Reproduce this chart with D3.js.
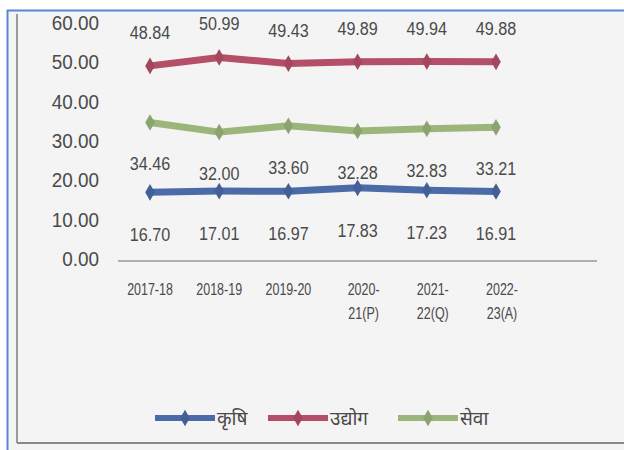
<!DOCTYPE html>
<html><head><meta charset="utf-8">
<script src="https://cdn.jsdelivr.net/npm/d3@7"></script>
<style>
html,body{margin:0;padding:0;background:#fff;}
svg{display:block;}
</style></head>
<body>
<svg id="c" width="624" height="450"></svg>
<script>
const categories = [["2017-18"],["2018-19"],["2019-20"],["2020-","21(P)"],["2021-","22(Q)"],["2022-","23(A)"]];
const seriesNames = ["कृषि","उद्योग","सेवा"];
const agriculture = [16.70,17.01,16.97,17.83,17.23,16.91];
const industry = [48.84,50.99,49.43,49.89,49.94,49.88];
const services = [34.46,32.00,33.60,32.28,32.83,33.21];
const yTicks = [0,10,20,30,40,50,60];
const colors = ["#4a6aa8","#b54f68","#9bb57a"];

const svg = d3.select("#c");
const font = "'Liberation Sans',Arial,sans-serif";
const txtCol = "#4a4a4a";
svg.append("rect").attr("x",0).attr("y",0).attr("width",624).attr("height",450).attr("fill","#ffffff");
svg.append("rect").attr("x",7).attr("y",10).attr("width",640).attr("height",460).attr("fill","#f4f4f4");
svg.append("line").attr("x1",7).attr("x2",624).attr("y1",10.5).attr("y2",10.5).attr("stroke","#5b86d6").attr("stroke-width",2);
svg.append("line").attr("x1",7.5).attr("x2",7.5).attr("y1",10).attr("y2",450).attr("stroke","#5b86d6").attr("stroke-width",2);
svg.append("line").attr("x1",17).attr("x2",17).attr("y1",14).attr("y2",443).attr("stroke","#9a9a9a").attr("stroke-width",2);
svg.append("line").attr("x1",17).attr("x2",624).attr("y1",443).attr("y2",443).attr("stroke","#8a8a8a").attr("stroke-width",2);

const x = d3.scalePoint().domain(d3.range(categories.length)).range([150,496]);
const y = d3.scaleLinear().domain([0,60]).range([258,22]);

function ctext(g, tx, ty, s, size, anchor, sx){
  return g.append("text").attr("transform",`translate(${tx},${ty}) scale(${sx},1)`)
    .attr("text-anchor",anchor).attr("font-family",font).attr("font-size",size).attr("fill",txtCol).text(s);
}

// y axis labels
const yAxis = d3.axisLeft(y).tickValues(yTicks).tickFormat(d3.format(".2f")).tickSize(0).tickPadding(0);
const ya = svg.append("g").attr("transform","translate(99,0)").call(yAxis);
ya.select(".domain").remove();
ya.selectAll("text").attr("font-family",font).attr("font-size",21).attr("fill",txtCol)
  .attr("transform","scale(0.9,1)").attr("dy","0.35em");

// x axis line
svg.append("line").attr("x1",118).attr("x2",597).attr("y1",y(0)+3).attr("y2",y(0)+3).attr("stroke","#999").attr("stroke-width",1.5);

// x labels
const xl = svg.append("g");
categories.forEach((c,i)=>{
  c.forEach((s,j)=>ctext(xl, x(i)+(c.length>1?6:0), 295+j*24, s, 16, "middle", 0.78));
});

const all = [agriculture,industry,services];
const line = d3.line().x((d,i)=>x(i)).y(d=>y(d));
const diamond = d3.symbol().type(d3.symbolDiamond).size(80);
all.forEach((s,k)=>{
  svg.append("path").datum(s).attr("d",line).attr("fill","none").attr("stroke",colors[k]).attr("stroke-width",7).attr("stroke-linejoin","round");
  svg.selectAll(null).data(s).enter().append("path").attr("d",diamond)
    .attr("transform",(d,i)=>`translate(${x(i)},${y(d)})`).attr("fill",d3.color(colors[k]).darker(0.3));
});

// data labels
const dl = svg.append("g");
agriculture.forEach((d,i)=>ctext(dl, x(i), y(d)+49, d.toFixed(2), 19, "middle", 0.85));
industry.forEach((d,i)=>ctext(dl, x(i), y(d)-27, d.toFixed(2), 19, "middle", 0.85));
services.forEach((d,i)=>ctext(dl, x(i), y(d)+48, d.toFixed(2), 19, "middle", 0.85));

// legend
const lx = [155,268,398];
const lg = svg.append("g");
seriesNames.forEach((n,k)=>{
  lg.append("line").attr("x1",lx[k]).attr("x2",lx[k]+60).attr("y1",418).attr("y2",418).attr("stroke",colors[k]).attr("stroke-width",6);
  lg.append("path").attr("d",diamond).attr("transform",`translate(${lx[k]+30},418)`).attr("fill",d3.color(colors[k]).darker(0.3));
  lg.append("text").attr("x",lx[k]+62).attr("y",425).attr("font-family","'Noto Sans','Noto Sans Devanagari',sans-serif").attr("font-size",19).attr("fill",txtCol).text(n);
});
</script>
</body></html>
